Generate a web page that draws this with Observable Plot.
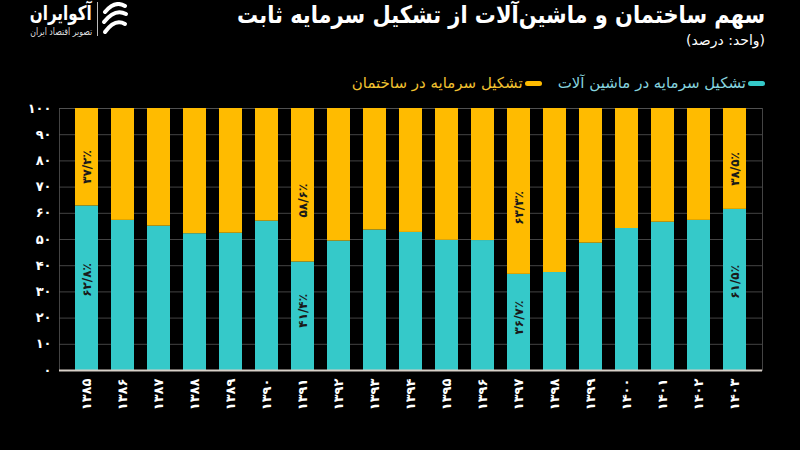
<!DOCTYPE html>
<html><head><meta charset="utf-8">
<script src="https://cdn.jsdelivr.net/npm/d3@7"></script>
<script src="https://cdn.jsdelivr.net/npm/@observablehq/plot@0.6"></script>
<style>
html,body{margin:0;padding:0;background:#000;width:800px;height:450px;overflow:hidden;font-family:"DejaVu Sans",sans-serif;}
#header{position:relative;height:95px;width:800px;}
.title{position:absolute;right:35px;top:2px;color:#fff;font-weight:bold;font-size:24px;direction:rtl;white-space:nowrap;line-height:26px;transform-origin:right center;}
.subtitle{position:absolute;right:35px;top:32px;color:#fff;font-size:14px;direction:rtl;white-space:nowrap;}
.legend{position:absolute;right:35px;top:74px;display:flex;direction:rtl;align-items:center;font-size:15px;white-space:nowrap;}
.legend .item{display:flex;align-items:center;margin-left:16px;}
.legend .sw{width:17px;height:5px;border-radius:2.5px;margin-left:2px;}
.logoName{position:absolute;right:708px;top:2px;color:#fff;font-weight:bold;font-size:20px;line-height:22px;white-space:nowrap;direction:rtl;transform-origin:right center;}
.logoTag{position:absolute;right:708px;top:25px;color:#ddd;font-size:10px;line-height:13px;white-space:nowrap;direction:rtl;transform-origin:right center;}
.divider{position:absolute;left:97px;top:2px;width:1px;height:34px;background:#bbb;}
.icon{position:absolute;left:101px;top:2px;}
#chart{position:absolute;left:0;top:95px;}
</style></head>
<body>
<div id="header">
  <div class="logoName" id="logoName">آکوایران</div>
  <div class="logoTag" id="logoTag">تصویر اقتصاد ایران</div>
  <div class="divider"></div>
  <svg class="icon" width="28" height="36" viewBox="0 0 28 36">
    <path d="M4 10 Q14 -2 24 4" stroke="#fff" stroke-width="4" fill="none" stroke-linecap="round"/>
    <path d="M3 20 Q14 6 25 12" stroke="#fff" stroke-width="4" fill="none" stroke-linecap="round"/>
    <path d="M4 30 Q14 16 24 22" stroke="#fff" stroke-width="4" fill="none" stroke-linecap="round"/>
  </svg>
  <div class="title" id="title">سهم ساختمان و ماشین‌آلات از تشکیل سرمایه ثابت</div>
  <div class="subtitle">(واحد: درصد)</div>
  <div class="legend" id="legend"></div>
</div>
<div id="chart"></div>
<script>
const years = ["۱۳۸۵","۱۳۸۶","۱۳۸۷","۱۳۸۸","۱۳۸۹","۱۳۹۰","۱۳۹۱","۱۳۹۲","۱۳۹۳","۱۳۹۴","۱۳۹۵","۱۳۹۶","۱۳۹۷","۱۳۹۸","۱۳۹۹","۱۴۰۰","۱۴۰۱","۱۴۰۲","۱۴۰۳"];
const machinery = [62.8, 57.3, 55.1, 52.2, 52.4, 57.0, 41.4, 49.4, 53.6, 52.7, 49.7, 49.6, 36.7, 37.4, 48.6, 54.2, 56.6, 57.3, 61.5];
const building  = [37.2, 42.7, 44.9, 47.8, 47.6, 43.0, 58.6, 50.6, 46.4, 47.3, 50.3, 50.4, 63.3, 62.6, 51.4, 45.8, 43.4, 42.7, 38.5];
const seriesNames = ["تشکیل سرمایه در ماشین آلات", "تشکیل سرمایه در ساختمان"];
const seriesColors = ["#35C9C9", "#FFBB00"];
const legendTextColors = ["#86D3DF", "#F2C230"];
const labeledYears = ["۱۳۸۵","۱۳۹۱","۱۳۹۷","۱۴۰۳"];
const yTicks = [0,10,20,30,40,50,60,70,80,90,100];
const yTickLabels = ["۰","۱۰","۲۰","۳۰","۴۰","۵۰","۶۰","۷۰","۸۰","۹۰","۱۰۰"];

const fa = s => String(s).replace(/[0-9]/g, d => "۰۱۲۳۴۵۶۷۸۹"[d]).replace(".", "/");
const pct = v => fa(v.toFixed(1)) + "٪";

function fitWidth(el, target) {
  const w = el.getBoundingClientRect().width;
  if (w > target) el.style.transform = `scaleX(${target / w})`;
}
fitWidth(document.getElementById("title"), 528);
fitWidth(document.getElementById("logoName"), 62);
fitWidth(document.getElementById("logoTag"), 62);

const rows = [];
years.forEach((y, i) => {
  rows.push({year: y, series: seriesNames[0], value: machinery[i]});
  rows.push({year: y, series: seriesNames[1], value: building[i]});
});
const labels = [];
years.forEach((y, i) => {
  if (!labeledYears.includes(y)) return;
  labels.push({year: y, pos: machinery[i] * 0.55, text: pct(machinery[i])});
  labels.push({year: y, pos: machinery[i] + building[i] * 0.4, text: pct(building[i])});
});

const leg = document.getElementById("legend");
seriesNames.forEach((n, i) => {
  const it = document.createElement("div"); it.className = "item";
  const sw = document.createElement("div"); sw.className = "sw"; sw.style.background = seriesColors[i];
  const tx = document.createElement("span"); tx.textContent = n; tx.style.color = legendTextColors[i];
  it.appendChild(sw); it.appendChild(tx); leg.appendChild(it);
});

const chart = Plot.plot({
  width: 800, height: 355,
  marginTop: 13, marginBottom: 80, marginLeft: 59, marginRight: 38,
  style: {background: "#000", color: "#fff", fontFamily: "DejaVu Sans, sans-serif"},
  x: {domain: years, paddingInner: 0.37, paddingOuter: 0.27, label: null},
  y: {domain: [0, 100], label: null},
  color: {domain: seriesNames, range: seriesColors},
  marks: [
    Plot.gridY(yTicks, {stroke: "#555", strokeOpacity: 1, strokeWidth: 0.8}),
    Plot.frame({stroke: "#555", strokeWidth: 0.8}),
    Plot.barY(rows, {x: "year", y: "value", fill: "series", order: seriesNames}),
    Plot.ruleY([0], {stroke: "#d8d0c8", strokeWidth: 2}),
    Plot.axisY(yTicks, {tickSize: 0, tickPadding: 8, tickFormat: (d) => yTickLabels[yTicks.indexOf(d)], fontSize: 13, fontWeight: "bold", fill: "#fff"}),
    Plot.axisX({tickSize: 0, tickPadding: 8, tickRotate: -90, fontSize: 13, fontWeight: "bold", fill: "#fff"}),
    Plot.text(labels, {x: "year", y: "pos", text: "text", rotate: -90, fill: "#1a1a1a", fontSize: 12, fontWeight: "bold"})
  ]
});
document.getElementById("chart").appendChild(chart);
</script>
</body></html>
